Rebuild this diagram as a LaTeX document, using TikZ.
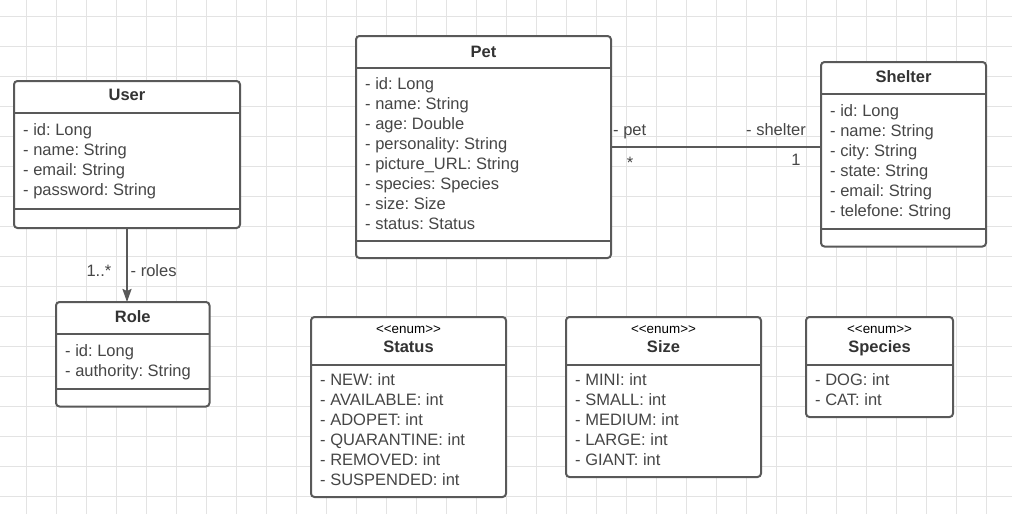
\documentclass[tikz,border=0pt]{standalone}
\usepackage{fontspec}
\setmainfont{Liberation Sans}
\frenchspacing
\usetikzlibrary{arrows.meta}
\definecolor{boxc}{HTML}{595959}
\definecolor{gridc}{HTML}{E3E3E3}
\definecolor{ttlc}{HTML}{333333}
\definecolor{attrc}{HTML}{464646}
\tikzset{
  umlbox/.style={draw=boxc, line width=2pt, rounded corners=3.5pt, fill=white,
    inner sep=0pt, outer sep=0pt, anchor=north west},
  seprule/.style={draw=boxc, line width=2pt},
  gridline/.style={draw=gridc, line width=1pt},
  conn/.style={draw=boxc, line width=2pt},
  attr/.style={inner sep=0pt, anchor=base west, text=attrc, font=\frenchspacing\fontsize{16.5}{20}\selectfont},
  lbl/.style={inner sep=0pt, text=attrc, font=\frenchspacing\fontsize{16.5}{20}\selectfont},
  ttl/.style={inner sep=0pt, anchor=base, text=ttlc, font=\bfseries\fontsize{16.5}{20}\selectfont},
  stereo/.style={inner sep=0pt, anchor=base, text=black, font=\fontsize{13.4}{16}\selectfont},
}
\begin{document}
\begin{tikzpicture}[x=1pt,y=-1pt]
\useasboundingbox (0,0) rectangle (1012,514);
\fill[white] (0,0) rectangle (1012,514);
% grid
\foreach \gx in {26.5,56.5,...,1010} \draw[gridline] (\gx,0) -- (\gx,514);
\foreach \gy in {16,46,...,514} \draw[gridline] (0,\gy) -- (1012,\gy);

% ---------- User ----------
\node[umlbox, minimum width=226pt, minimum height=147pt] (user) at (14,81) {};
\draw[seprule] (14,112.5) -- (240,112.5);
\draw[seprule] (14,208.5) -- (240,208.5);
\node[ttl] (user-t) at (127,100.7) {User};
\foreach \t [count=\i] in {{- id: Long},{- name: String},{- email: String},{- password: String}}
  \node[attr] (user-a\i) at (23,{135.5+20*(\i-1)}) {\t};

% ---------- Role ----------
\node[umlbox, minimum width=153.5pt, minimum height=104.5pt] (role) at (56,302) {};
\draw[seprule] (56,333.5) -- (209.5,333.5);
\draw[seprule] (56,389) -- (209.5,389);
\node[ttl] (role-t) at (132.75,322) {Role};
\foreach \t [count=\i] in {{- id: Long},{- authority: String}}
  \node[attr] (role-a\i) at (65,{356.5+20*(\i-1)}) {\t};

% ---------- Pet ----------
\node[umlbox, minimum width=255pt, minimum height=222pt] (pet) at (356,36) {};
\draw[seprule] (356,68) -- (611,68);
\draw[seprule] (356,241) -- (611,241);
\node[ttl] (pet-t) at (483.5,57) {Pet};
\foreach \t [count=\i] in {{- id: Long},{- name: String},{- age: Double},{- personality: String},{- picture\_URL: String},{- species: Species},{- size: Size},{- status: Status}}
  \node[attr] (pet-a\i) at (365,{89+20*(\i-1)}) {\t};

% ---------- Shelter ----------
\node[umlbox, minimum width=165pt, minimum height=184.5pt] (shelter) at (821,62) {};
\draw[seprule] (821,93.5) -- (986,93.5);
\draw[seprule] (821,229) -- (986,229);
\node[ttl] (shelter-t) at (903.5,82) {Shelter};
\foreach \t [count=\i] in {{- id: Long},{- name: String},{- city: String},{- state: String},{- email: String},{- telefone: String}}
  \node[attr] (shelter-a\i) at (830,{116.5+20*(\i-1)}) {\t};

% ---------- Status ----------
\node[umlbox, minimum width=195pt, minimum height=180pt] (status) at (311,317) {};
\draw[seprule] (311,365) -- (506,365);
\node[stereo] (status-s) at (408.5,333.3) {<\kern0pt<enum>\kern0pt>};
\node[ttl] (status-t) at (408.5,352.7) {Status};
\foreach \t [count=\i] in {{- NEW: int},{- AVAILABLE: int},{- ADOPET: int},{- QUARANTINE: int},{- REMOVED: int},{- SUSPENDED: int}}
  \node[attr] (status-a\i) at (320,{385+20*(\i-1)}) {\t};

% ---------- Size ----------
\node[umlbox, minimum width=195pt, minimum height=160pt] (size) at (566,317) {};
\draw[seprule] (566,365) -- (761,365);
\node[stereo] (size-s) at (663.5,333.3) {<\kern0pt<enum>\kern0pt>};
\node[ttl] (size-t) at (663.5,352.7) {Size};
\foreach \t [count=\i] in {{- MINI: int},{- SMALL: int},{- MEDIUM: int},{- LARGE: int},{- GIANT: int}}
  \node[attr] (size-a\i) at (575,{385+20*(\i-1)}) {\t};

% ---------- Species ----------
\node[umlbox, minimum width=147pt, minimum height=100pt] (species) at (806,317) {};
\draw[seprule] (806,365) -- (953,365);
\node[stereo] (species-s) at (879.5,333.3) {<\kern0pt<enum>\kern0pt>};
\node[ttl] (species-t) at (879.5,352.7) {Species};
\foreach \t [count=\i] in {{- DOG: int},{- CAT: int}}
  \node[attr] (species-a\i) at (815,{385.5+20*(\i-1)}) {\t};

% ---------- connectors ----------
\draw[conn, -{Stealth[length=13pt,width=9pt,inset=2pt]}] (user.south) -- (user.south |- role.north);
\node[lbl, anchor=base east] (m-roles) at (111.5,276) {1..*};
\node[lbl, anchor=base west] (r-roles) at (130.5,276) {- roles};

\draw[conn] (pet.east) -- (pet.east -| shelter.west);
\node[lbl, anchor=base west] (r-pet) at (613,135) {- pet};
\node[lbl, anchor=base] (m-pet) at (630,168) {*};
\node[lbl, anchor=base east] (r-shelter) at (806,135) {- shelter};
\node[lbl, anchor=base] (m-shelter) at (796,165) {1};
\end{tikzpicture}
\end{document}
